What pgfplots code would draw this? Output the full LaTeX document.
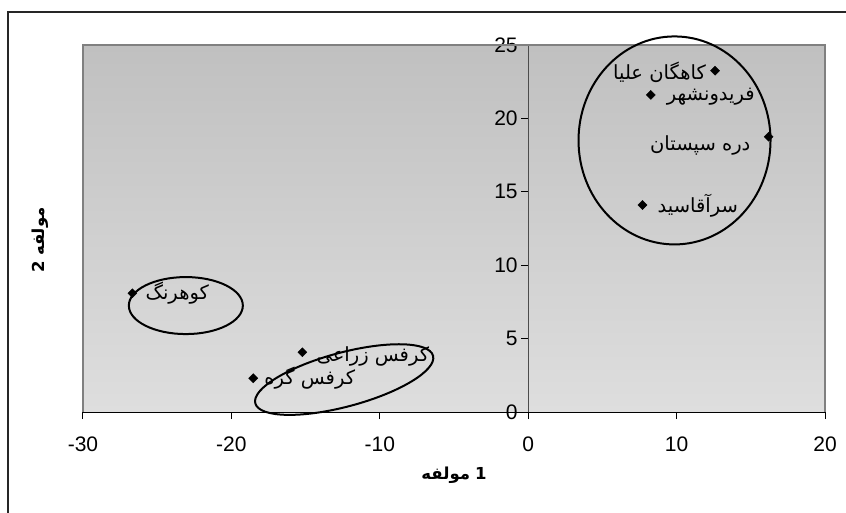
\documentclass[border=0pt]{standalone}
\usepackage{pgfplots}
\pgfplotsset{compat=1.18}
\usepackage{fontspec}
\setmainfont{Liberation Sans}
\newfontfamily\arabicfont[Script=Arabic]{DejaVu Sans}
\TeXXeTstate=1
\definecolor{bgtop}{RGB}{192,192,192}
\definecolor{bgbot}{RGB}{222,222,222}
\newcommand{\fa}[1]{{\arabicfont\fontsize{19.5}{23}\selectfont\beginR #1\endR}}

\begin{document}
\begin{tikzpicture}[font=\fontsize{21}{25}\selectfont]
\useasboundingbox (-83pt,-100pt) rectangle (763pt,412pt);
% outer chart border
\draw[line width=2pt, black!85] (-74.5pt,-110pt) -- (-74.5pt,399.5pt) -- (780pt,399.5pt);
\begin{axis}[
  scale only axis, width=742pt, height=367pt,
  xmin=-30, xmax=20, ymin=0, ymax=25,
  axis lines=middle,
  axis line style={-},
  x axis line style={black, line width=1pt},
  y axis line style={black!70, line width=1pt},
  hide obscured x ticks=false, hide obscured y ticks=false,
  xtick={-30,-20,...,20}, ytick={0,5,...,25},
  minor tick num=0,
  tick align=outside,
  major tick length=7pt,
  tick style={black, line width=1pt},
  xticklabel style={yshift=-14pt},
  axis background/.style={top color=bgtop, bottom color=bgbot},
  clip=false,
  /pgf/number format/assume math mode=true,
  ticklabel style={font=\fontsize{21}{25}\selectfont},
]
\draw[gray, line width=1.2pt] (rel axis cs:0,0) -- (rel axis cs:0,1) -- (rel axis cs:1,1) -- (rel axis cs:1,0);

\addplot[only marks, mark=square*, mark size=3.2pt, mark options={rotate=45}, black] coordinates {
  (12.59,23.25) (8.26,21.6) (16.2,18.75) (7.7,14.1)
  (-26.67,8.09) (-15.22,4.07) (-18.53,2.30)
};

\node[anchor=east, inner sep=0pt] at ([xshift=-9pt,yshift=-2pt]axis cs:12.59,23.25) {\fa{کاهگان علیا}};
\node[anchor=west, inner sep=0pt] at ([xshift=16pt,yshift=-2pt]axis cs:8.26,21.6) {\fa{فریدونشهر}};
\node[anchor=east, inner sep=0pt] at ([xshift=-18pt,yshift=-9pt]axis cs:16.2,18.75) {\fa{دره سپستان}};
\node[anchor=west, inner sep=0pt] at ([xshift=15pt,yshift=-1pt]axis cs:7.7,14.1) {\fa{سرآقاسید}};
\node[anchor=west, inner sep=0pt] at ([xshift=13pt]axis cs:-26.67,8.09) {\fa{کوهرنگ}};
\node[anchor=west, inner sep=0pt] at ([xshift=14pt,yshift=-4pt]axis cs:-15.22,4.07) {\fa{کرفس زراعی}};
\node[anchor=west, inner sep=0pt] at ([xshift=11pt]axis cs:-18.53,2.30) {\fa{کرفس گره}};

\draw[line width=2pt] (axis cs:9.86,18.5) ellipse [x radius=96pt, y radius=104pt];
\draw[line width=2pt] (axis cs:-23.07,7.25) ellipse [x radius=57pt, y radius=28.5pt];
\draw[line width=2pt, rotate around={15:(axis cs:-12.4,2.21)}] (axis cs:-12.4,2.21) ellipse [x radius=92pt, y radius=27pt];

\node[font=\arabicfont\bfseries\fontsize{16.5}{20}\selectfont] at ([yshift=-63pt]rel axis cs:0.5,0) {\hbox{\beginR مولفه\endR}\hspace{0.3em}\hbox{1}};
\node[rotate=90, font=\arabicfont\bfseries\fontsize{16.5}{20}\selectfont] at ([xshift=-43pt]rel axis cs:0,0.469) {\hbox{2}\hspace{0.3em}\hbox{\beginR مولفه\endR}};
\end{axis}
\end{tikzpicture}
\end{document}
